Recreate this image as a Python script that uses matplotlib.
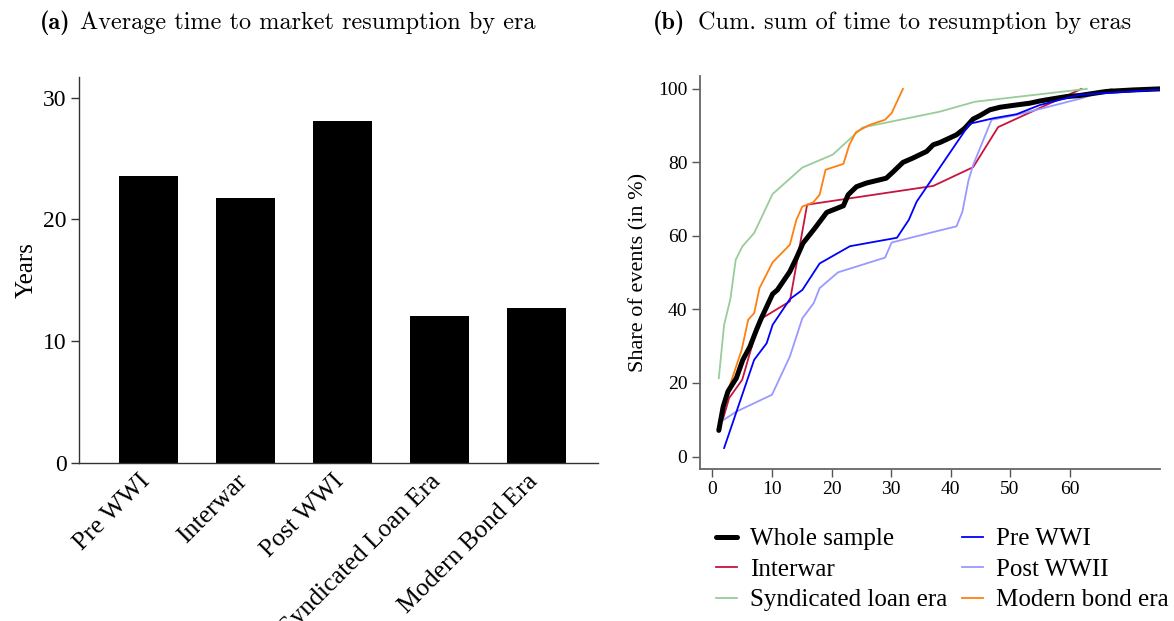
import matplotlib
matplotlib.use("Agg")
import matplotlib.pyplot as plt
from matplotlib.transforms import ScaledTranslation

# ---------------- data ----------------
eras = ["Pre WWI", "Interwar", "Post WWI", "Syndicated Loan Era", "Modern Bond Era"]
avg_years = [23.6, 21.8, 28.1, 12.1, 12.7]

whole_x = [1.06, 1.8, 2.6, 4.0, 5.1, 6.3, 7.4, 8.2, 10.1, 10.9, 13.0, 14.1, 15.2, 17.2, 19.2,
           22.0, 22.8, 24.2, 25.9, 29.2, 30.4, 32.0, 33.7, 36.0, 37.1, 38.2, 41.0, 42.4, 43.8,
           44.9, 46.6, 48.3, 50.5, 53.3, 55.0, 57.2, 59.5, 61.7, 66.2, 70.6, 75.2]
whole_y = [7.1, 13.6, 17.7, 21.3, 26.3, 29.9, 34.5, 37.6, 44.2, 45.3, 50.3, 54.0, 58.0, 62.1, 66.4,
           68.2, 71.2, 73.4, 74.4, 75.7, 77.5, 80.0, 81.2, 83.0, 84.8, 85.4, 87.5, 89.3, 91.8,
           92.7, 94.3, 95.0, 95.5, 96.1, 96.7, 97.3, 97.9, 98.2, 99.3, 99.7, 100.0]

prewwi_x = [1.95, 7.0, 9.1, 10.1, 13.0, 15.1, 18.0, 23.1, 31.0, 33.0, 34.3, 43.2, 47.2, 51.1, 55.0, 61.7, 75.2]
prewwi_y = [2.3, 26.3, 30.8, 35.8, 42.8, 45.3, 52.5, 57.2, 59.5, 64.4, 69.3, 90.5, 92.0, 93.1, 95.6, 98.4, 99.8]

interwar_x = [1.8, 2.8, 5.0, 7.9, 13.0, 15.9, 37.1, 43.8, 48.0, 62.0]
interwar_y = [10.4, 15.9, 20.9, 37.2, 42.2, 68.5, 73.6, 78.7, 89.6, 100.0]

postwwii_x = [1.06, 4.0, 10.0, 13.0, 15.1, 17.0, 18.0, 21.1, 29.0, 30.1, 38.2, 41.0, 42.0, 43.0,
              43.8, 46.9, 51.1, 61.7, 67.1]
postwwii_y = [9.1, 12.2, 16.8, 27.2, 37.6, 41.7, 45.8, 50.1, 54.1, 58.2, 61.5, 62.6, 66.6, 75.0,
              79.3, 91.6, 92.9, 97.3, 100.0]

synd_x = [1.06, 1.95, 3.0, 3.9, 5.0, 7.0, 10.1, 15.1, 20.2, 25.2, 38.2, 44.1, 62.9]
synd_y = [21.3, 35.8, 42.8, 53.5, 57.1, 60.8, 71.4, 78.6, 82.1, 89.5, 93.8, 96.5, 100.0]

modern_x = [1.06, 2.1, 4.9, 6.0, 7.0, 7.9, 10.1, 13.0, 14.1, 15.1, 16.9, 18.0, 19.0, 22.0, 23.0,
            24.1, 26.4, 29.0, 30.1, 32.0]
modern_y = [7.3, 15.4, 29.0, 37.2, 39.0, 45.8, 52.8, 57.6, 64.4, 68.0, 69.1, 71.2, 78.0, 79.6, 84.8,
            88.2, 90.2, 91.6, 93.4, 100.0]

x_ticks = [0, 10, 20, 30, 40, 50, 60]
y_ticks = [0, 20, 40, 60, 80, 100]
bar_yticks = [0, 10, 20, 30]

# ---------------- figure ----------------
W, H = 1174, 621
fig = plt.figure(figsize=(W / 100, H / 100), dpi=100)
serif = ["Liberation Serif", "DejaVu Serif"]
plt.rcParams["font.family"] = serif


def rect(l, t, r, b):
    return [l / W, 1 - b / H, (r - l) / W, (b - t) / H]


# ---- panel (a) ----
ax1 = fig.add_axes(rect(79, 77, 598, 463))
pos = list(range(len(eras)))
ax1.bar(pos, avg_years, width=0.61, color="black")
ax1.set_xlim(-0.72, 4.63)
ax1.set_ylim(0, 31.7)
ax1.set_yticks(bar_yticks)
ax1.set_xticks(pos)
ax1.tick_params(axis="y", labelsize=17, length=6, width=1, color="#333333", pad=3)
ax1.tick_params(axis="x", length=0, pad=5)
ax1.set_xticklabels(eras, rotation=45, ha="right", va="top", rotation_mode="anchor",
                    fontsize=18.5)
shift = ScaledTranslation(-10 / 100, 0, fig.dpi_scale_trans)
for lab in ax1.get_xticklabels():
    lab.set_transform(lab.get_transform() + shift)
ax1.set_ylabel("Years", fontsize=18, labelpad=4)
for s in ["top", "right"]:
    ax1.spines[s].set_visible(False)
for s in ["left", "bottom"]:
    ax1.spines[s].set_color("#333333")
    ax1.spines[s].set_linewidth(1.0)

# ---- panel (b) ----
ax2 = fig.add_axes(rect(700, 76, 1160, 469))
ax2.plot(whole_x, whole_y, color="black", lw=3.6, label="Whole sample", solid_capstyle="round",
         zorder=3)
ax2.plot(interwar_x, interwar_y, color="#c8143c", lw=1.3, label="Interwar", zorder=2)
ax2.plot(synd_x, synd_y, color="#99cc99", lw=1.3, label="Syndicated loan era", zorder=2)
ax2.plot(prewwi_x, prewwi_y, color="#0000ff", lw=1.3, label="Pre WWI", zorder=4)
ax2.plot(postwwii_x, postwwii_y, color="#9999ff", lw=1.3, label="Post WWII", zorder=2)
ax2.plot(modern_x, modern_y, color="#ff7f0e", lw=1.3, label="Modern bond era", zorder=2)
ax2.set_xlim(-2.1, 75.2)
ax2.set_ylim(-3.4, 103.5)
ax2.set_xticks(x_ticks)
ax2.set_yticks(y_ticks)
ax2.tick_params(labelsize=14, length=6, width=1, color="#555555", pad=3)
ax2.set_ylabel("Share of events (in %)", fontsize=16, labelpad=7)
for s in ["top", "right"]:
    ax2.spines[s].set_visible(False)
for s in ["left", "bottom"]:
    ax2.spines[s].set_color("#666666")
    ax2.spines[s].set_linewidth(1.3)

leg = ax2.legend(loc="upper left", bbox_to_anchor=(0.035, -0.15), ncol=2, frameon=False,
                 fontsize=18, handlelength=0.85, handletextpad=0.5, columnspacing=0.6,
                 labelspacing=0.32, borderaxespad=0, borderpad=0)

# ---- titles ----
ty = 1 - 23 / H
fs_t = 17.5
fig.text(40 / W, ty, "(a)", family="cmb10", fontsize=fs_t, va="center")
fig.text(80 / W, ty, "Average time to market resumption by era", family="cmr10", fontsize=fs_t,
         va="center")
fig.text(653 / W, ty, "(b)", family="cmb10", fontsize=fs_t, va="center")
fig.text(698 / W, ty, "Cum. sum of time to resumption by eras", family="cmr10", fontsize=fs_t,
         va="center")

fig.savefig("out.png", dpi=100)
